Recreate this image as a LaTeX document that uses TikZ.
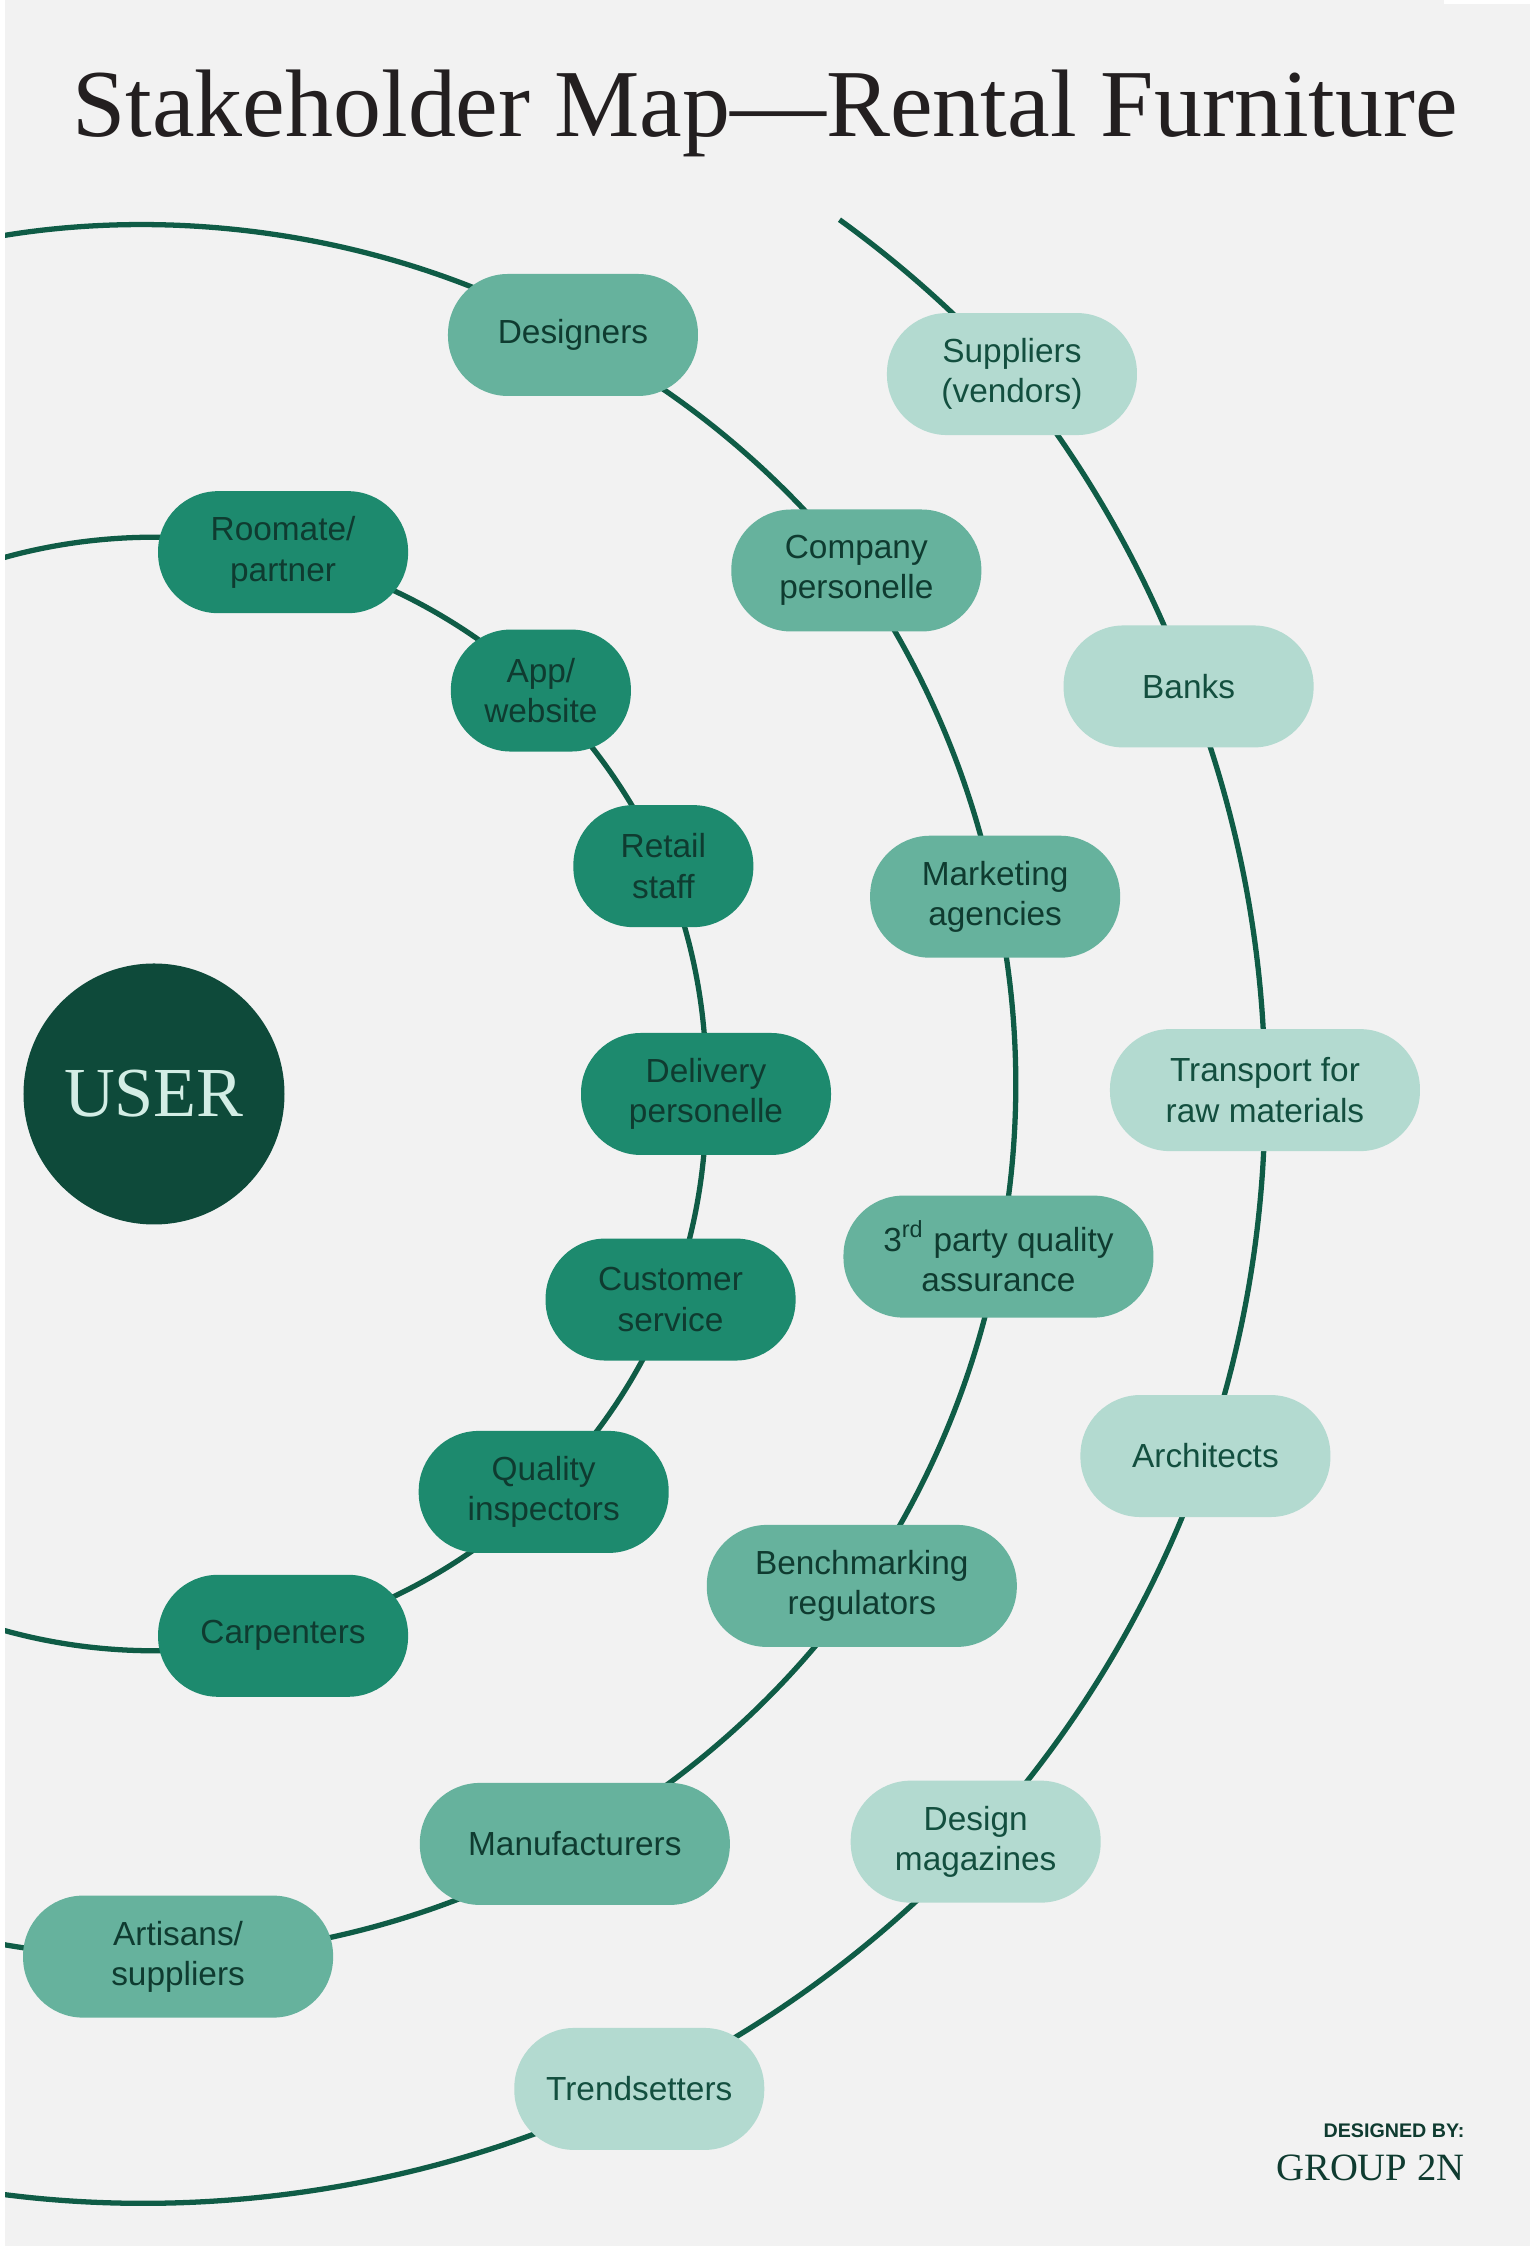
\documentclass[tikz,border=0pt]{standalone}
\usepackage{fontspec}
\setmainfont{Liberation Serif}
\newfontfamily\labelfont{Liberation Sans}
\usetikzlibrary{calc}

\pgfdeclarelayer{bg}
\pgfsetlayers{bg,main}

\definecolor{pagegrey}{HTML}{F2F2F2}
\definecolor{ringline}{HTML}{0F5C46}
\definecolor{innerfill}{HTML}{1D8A6E}
\definecolor{middlefill}{HTML}{66B29D}
\definecolor{outerfill}{HTML}{B3DAD0}
\definecolor{userfill}{HTML}{0E4A3A}
\definecolor{usertext}{HTML}{D3EDE5}
\definecolor{darktext}{HTML}{0F3B30}
\definecolor{outertext}{HTML}{134F3F}
\definecolor{titletext}{HTML}{231F20}

\begin{document}
\begin{tikzpicture}[
    ring/.style={ringline, line width=1.5pt, looseness=0.86},
    pill/.style={rounded corners=0.6cm, minimum height=1.22cm, inner sep=0pt, align=center,
        font=\labelfont\fontsize{9.5}{11.5}\selectfont, text=darktext},
    innerpill/.style={pill, fill=innerfill},
    middlepill/.style={pill, fill=middlefill},
    outerpill/.style={pill, fill=outerfill, text=outertext},
    pillshort/.style={minimum width=1.8cm},
    pillstd/.style={minimum width=2.5cm},
    pilllong/.style={minimum width=3.1cm}]
    \useasboundingbox (0,0) rectangle (15.3,22.51);

    % Title and credits
    \node[anchor=base, inner sep=0pt, text=titletext, font=\fontsize{27.3}{32}\selectfont] (title) at (7.65,21.14) {Stakeholder Map\textemdash Rental Furniture};
    \node[anchor=base east, inner sep=0pt, text=darktext, font=\labelfont\bfseries\fontsize{5.6}{7}\selectfont] (designedby) at (14.65,1.13) {DESIGNED BY:};
    \node[anchor=base east, inner sep=0pt, text=darktext, font=\fontsize{11}{13}\selectfont] (group) at (14.65,0.70) {GROUP 2N};

    % User
    \node[circle, fill=userfill, minimum size=2.61cm, inner sep=0pt, text=usertext, font=\fontsize{20}{24}\selectfont] (user) at (1.54,11.57) {USER};

    % Inner ring
    \node[innerpill, pillstd] (roomate) at ($(user)+(76.6:5.57)$) {Roomate/\\partner};
    \node[innerpill, pillshort] (app) at ($(user)+(46.2:5.59)$) {App/\\website};
    \node[innerpill, pillshort] (retail) at ($(user)+(24.1:5.58)$) {Retail\\staff};
    \node[innerpill, pillstd] (delivery) at ($(user)+(0:5.52)$) {Delivery\\personelle};
    \node[innerpill, pillstd] (customer) at ($(user)+(-21.7:5.56)$) {Customer\\service};
    \node[innerpill, pillstd] (quality) at ($(user)+(-45.6:5.57)$) {Quality\\inspectors};
    \node[innerpill, pillstd] (carpenters) at ($(user)+(-76.6:5.57)$) {Carpenters};
    \coordinate (innertop) at ($(user)+(108:5.57)$);
    \coordinate (innerbottom) at ($(user)+(-108:5.57)$);

    % Middle ring
    \node[middlepill, pillstd] (designers) at ($(user)+(61.1:8.67)$) {Designers};
    \node[middlepill, pillstd] (company) at ($(user)+(36.7:8.76)$) {Company\\personelle};
    \node[middlepill, pillstd] (marketing) at ($(user)+(13.2:8.64)$) {Marketing\\agencies};
    \node[middlepill, pilllong] (thirdparty) at ($(user)+(-10.9:8.6)$) {3\textsuperscript{rd} party quality\\assurance};
    \node[middlepill, pilllong] (benchmarking) at ($(user)+(-34.8:8.62)$) {Benchmarking\\regulators};
    \node[middlepill, pilllong] (manufacturers) at ($(user)+(-60.7:8.6)$) {Manufacturers};
    \node[middlepill, pilllong] (artisans) at ($(user)+(-88.4:8.63)$) {Artisans/\\suppliers};
    \coordinate (middletop) at ($(user)+(103:8.72)$);
    \coordinate (middlebottom) at ($(user)+(-103:8.64)$);

    % Outer ring
    \node[outerpill, pillstd] (suppliers) at ($(user)+(40.0:11.2)$) {Suppliers\\(vendors)};
    \node[outerpill, pillstd] (banks) at ($(user)+(21.5:11.12)$) {Banks};
    \node[outerpill, pilllong] (transport) at ($(user)+(0.2:11.11)$) {Transport for\\raw materials};
    \node[outerpill, pillstd] (architects) at ($(user)+(-19.0:11.12)$) {Architects};
    \node[outerpill, pillstd] (magazines) at ($(user)+(-42.3:11.11)$) {Design\\magazines};
    \node[outerpill, pillstd] (trendsetters) at ($(user)+(-64.0:11.07)$) {Trendsetters};
    \coordinate (outertop) at ($(user)+(51.9:11.11)$);
    \coordinate (outerbottom) at ($(user)+(-100:11.11)$);

    % Page and rings
    \begin{pgfonlayer}{bg}
        \fill[white] (0,0) rectangle (15.3,22.51);
        \fill[pagegrey] (0.05,0.05) rectangle (15.3,22.51);
        \fill[white] (14.44,22.47) rectangle (15.3,22.51);
        \begin{scope}
            \clip (0.05,0.05) rectangle (15.3,22.51);
            \draw[ring] (innertop) to[bend left=15.7] (roomate.center) to[bend left=15.2] (app.center)
                to[bend left=11.05] (retail.center) to[bend left=12.05] (delivery.center)
                to[bend left=10.85] (customer.center) to[bend left=11.95] (quality.center)
                to[bend left=15.5] (carpenters.center) to[bend left=15.7] (innerbottom);
            \draw[ring] (middletop) to[bend left=20.95] (designers.center) to[bend left=12.2] (company.center)
                to[bend left=11.75] (marketing.center) to[bend left=12.05] (thirdparty.center)
                to[bend left=11.95] (benchmarking.center) to[bend left=12.95] (manufacturers.center)
                to[bend left=13.85] (artisans.center) to[bend left=7.3] (middlebottom);
            \draw[ring] (outertop) to[bend left=5.95] (suppliers.center) to[bend left=9.25] (banks.center)
                to[bend left=10.65] (transport.center) to[bend left=9.6] (architects.center)
                to[bend left=11.65] (magazines.center) to[bend left=10.85] (trendsetters.center)
                to[bend left=18] (outerbottom);
        \end{scope}
    \end{pgfonlayer}
\end{tikzpicture}
\end{document}
